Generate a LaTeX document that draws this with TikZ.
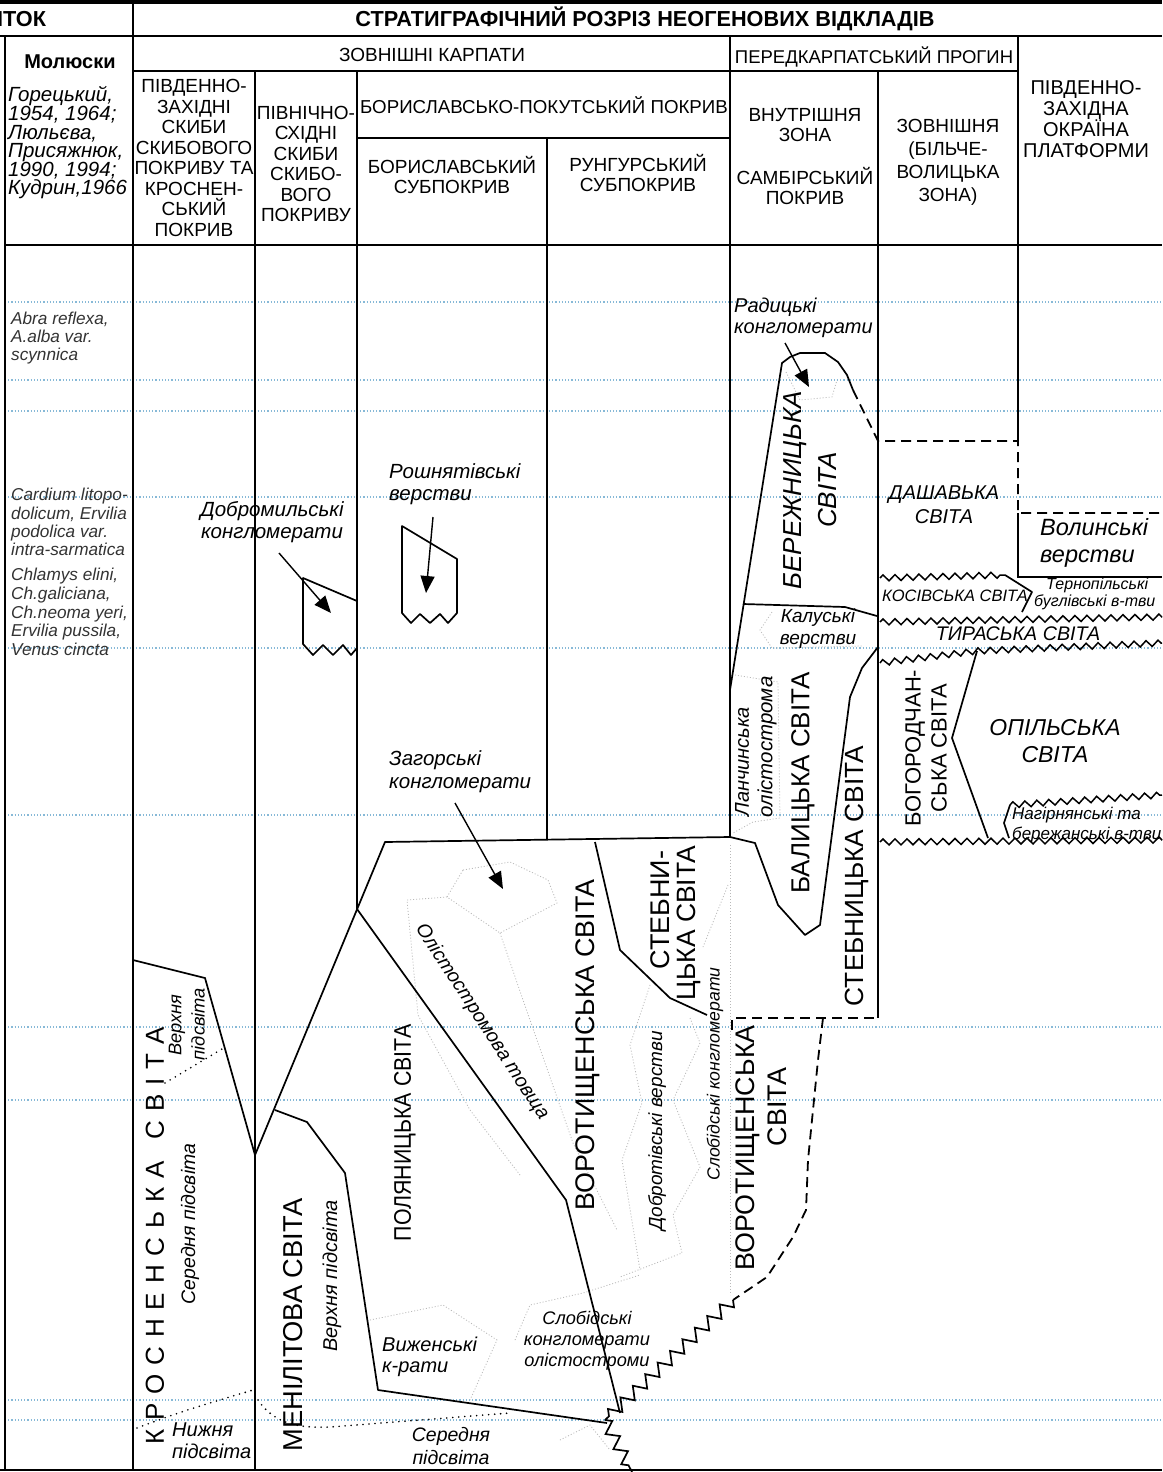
\documentclass[tikz,border=0pt]{standalone}
\usepackage{fontspec}
\setmainfont{Liberation Sans}
\usetikzlibrary{decorations.pathmorphing,arrows.meta}
\newcommand\fz[2]{\fontsize{#1}{#2}\selectfont}
\newcommand\lsp{\hspace{8.9pt}}
\definecolor{bluedot}{RGB}{135,185,215}
\definecolor{fainty}{RGB}{185,185,185}
\begin{document}
\begin{tikzpicture}[x=1pt,y=-1pt,
  cl/.style={line width=1.3pt},
  ln/.style={line width=1.7pt,line join=round},
  bd/.style={bluedot,line width=1.1pt,dash pattern=on 1.2pt off 2pt},
  fd/.style={fainty,line width=0.8pt,dash pattern=on 1pt off 2pt},
  ds/.style={line width=1.8pt,dash pattern=on 10pt off 6pt},
  zzs/.style={line width=1.5pt,decorate,decoration={zigzag,segment length=12pt,amplitude=3pt}},
  zzb/.style={line width=1.7pt,decorate,decoration={zigzag,segment length=17pt,amplitude=6pt}},
  ar/.style={line width=1.4pt,-{Triangle[length=17pt,width=14pt]}},
  bdot/.style={line width=1.8pt,dash pattern=on 0pt off 6pt,line cap=round},
  lbl/.style={inner sep=0pt,align=center},
  hd/.style={lbl,font=\fz{19}{20.5}},
  big/.style={lbl,rotate=90,font=\fz{26.5}{30}},
  smi/.style={lbl,font=\itshape\fz{19}{21}},
]
\useasboundingbox (0,0) rectangle (1162,1472);
\fill[white] (0,0) rectangle (1162,1472);

% ---------- blue dotted time lines
\foreach \yy in {302,380,411,497,648,815,1027,1100,1400,1420}
  \draw[bd] (5,\yy) -- (1162,\yy);

% ---------- faint olistostrome outlines
\draw[fd] (786,372) -- (800,400) -- (832,397) -- (837,380);
\draw[fd] (772,612) -- (760,630) -- (772,648) -- (862,646);
\draw[fd] (735,675) -- (778,682) -- (780,818) -- (753,822) -- (733,833);
\draw[fd] (463,870) -- (510,862) -- (548,880) -- (557,903) -- (500,933) -- (447,897) -- cycle;
\draw[fd] (447,897) -- (407,900) -- (418,1015) -- (470,1110) -- (520,1175);
\draw[fd] (500,933) -- (523,1000) -- (573,1143) -- (617,1230);
\draw[fd] (650,985) -- (630,1045) -- (642,1103) -- (622,1160) -- (640,1270);
\draw[fd] (690,1018) -- (700,1043) -- (673,1100) -- (700,1167) -- (673,1215) -- (682,1253) -- (620,1277);
\draw[fd] (730,845) -- (730,1295);
\draw[fd] (728,885) -- (703,947);
\draw[fd] (370,1320) -- (443,1305) -- (497,1340) -- (470,1400);
\draw[fd] (515,1340) -- (530,1305) -- (583,1293) -- (640,1275);
\draw[fd] (560,1440) -- (590,1425) -- (610,1450);

% ---------- frame
\fill (0,0) rectangle (1162,4.5);
\draw[cl] (0,36) -- (1162,36);
\draw[cl] (133,4) -- (133,1470);
\draw[cl] (5,36) -- (5,1470);
\draw[cl] (133,71) -- (1018,71);
\draw[cl] (255,71) -- (255,1470);
\draw[cl] (357,71) -- (357,909);
\draw[cl] (357,138) -- (730,138);
\draw[cl] (547,138) -- (547,840);
\draw[cl] (730,36) -- (730,837);
\draw[cl] (878,71) -- (878,1018);
\draw[cl] (1018,36) -- (1018,441);
\draw[cl] (5,245) -- (1162,245);
\draw[line width=2pt] (0,1470) -- (1162,1470);

% ---------- header texts
\node[lbl,anchor=west,font=\bfseries\fz{21.7}{23}] (hitok) at (-3,19) {ІТОК};
\node[lbl,font=\bfseries\fz{21.7}{23}] (htitle) at (645,19) {СТРАТИГРАФІЧНИЙ РОЗРІЗ НЕОГЕНОВИХ ВІДКЛАДІВ};
\node[lbl,font=\bfseries\fz{20}{22}] (hmol) at (70,62) {Молюски};
\node[lbl,anchor=west,align=left,font=\itshape\fz{20.5}{18.6}] (href) at (8,143) {Горецький,\\1954, 1964;\\Люльєва,\\Присяжнюк,\\1990, 1994;\\Кудрин,1966};
\node[hd] (hzk) at (432,55) {ЗОВНІШНІ КАРПАТИ};
\node[hd,font=\fz{18.5}{20}] (hpp) at (874,57) {ПЕРЕДКАРПАТСЬКИЙ ПРОГИН};
\node[hd] (hpz) at (194,158) {ПІВДЕННО-\\ЗАХІДНІ\\СКИБИ\\СКИБОВОГО\\ПОКРИВУ ТА\\КРОСНЕН-\\СЬКИЙ\\ПОКРИВ};
\node[hd] (hps) at (306,164) {ПІВНІЧНО-\\СХІДНІ\\СКИБИ\\СКИБО-\\ВОГО\\ПОКРИВУ};
\node[hd,font=\fz{18.7}{20}] (hbp) at (544,105) {БОРИСЛАВСЬКО-ПОКУТСЬКИЙ ПОКРИВ};
\node[hd] (hbs) at (452,175) {БОРИСЛАВСЬКИЙ\\СУБПОКРИВ};
\node[hd] (hrs) at (638,173) {РУНГУРСЬКИЙ\\СУБПОКРИВ};
\node[hd] (hvz) at (805,125) {ВНУТРІШНЯ\\ЗОНА};
\node[hd] (hsp) at (805,186) {САМБІРСЬКИЙ\\ПОКРИВ};
\node[hd,font=\fz{19}{23}] (hzz) at (948,162) {ЗОВНІШНЯ\\(БІЛЬЧЕ-\\ВОЛИЦЬКА\\ЗОНА)};
\node[lbl,font=\fz{20}{20.5}] (hpl) at (1086,119) {ПІВДЕННО-\\ЗАХІДНА\\ОКРАЇНА\\ПЛАТФОРМИ};

% ---------- mollusc lists
\node[lbl,anchor=west,align=left,font=\itshape\fz{17.2}{18.3},text=black!80] (sp1) at (11,338) {Abra reflexa,\\A.alba var.\\scynnica};
\node[lbl,anchor=west,align=left,font=\itshape\fz{17.2}{18.3},text=black!80] (sp2) at (11,522) {Cardium litopo-\\dolicum, Ervilia\\podolica var.\\intra-sarmatica};
\node[lbl,anchor=west,align=left,font=\itshape\fz{17.2}{18.7},text=black!80] (sp3) at (11,612) {Chlamys elini,\\Ch.galiciana,\\Ch.neoma yeri,\\Ervilia pussila,\\Venus cincta};

% ---------- small conglomerate bodies
\draw[ln] (357,648) -- (357,601) -- (303,578) -- (303,644) -- (313,655) -- (323,645) -- (333,655) -- (343,645) -- (351,655) -- (357,648);
\draw[ln] (402,526) -- (457,559) -- (457,613) -- (448,623) -- (440,614) -- (430,623) -- (420,614) -- (411,623) -- (402,613) -- cycle;

\node[lbl,font=\itshape\fz{20.5}{22}] (tdob) at (272,522) {Добромильські\\конгломерати};
\coordinate (adob1) at (279,553); \coordinate (adob2) at (331,613);
\draw[ar] (adob1) -- (adob2);
\node[lbl,anchor=west,align=left,font=\itshape\fz{20.5}{22}] (trosh) at (389,484) {Рошнятівські\\верстви};
\coordinate (arosh1) at (433,517); \coordinate (arosh2) at (426,593);
\draw[ar] (arosh1) -- (arosh2);

% ---------- Samby / inner zone bodies
\draw[ln] (730,690) -- (782,363) -- (790,357) -- (800,353) -- (825,353) -- (838,362) -- (847,375) -- (853,390);
\draw[ds] (853,390) -- (878,441) -- (1018,441) -- (1018,513) -- (1162,513);
\draw[ln] (743,604) -- (845,607) -- (877,616);
\draw[ln] (878,647) -- (862,668) -- (850,697) -- (820,925) -- (805,935) -- (778,905) -- (755,843) -- (730,837);

\node[lbl,anchor=west,align=left,font=\itshape\fz{20}{21.5}] (trad) at (734,318) {Радицькі\\конгломерати};
\coordinate (arad1) at (785,343); \coordinate (arad2) at (809,387);
\draw[ar] (arad1) -- (arad2);
\node[big,font=\itshape\fz{26}{30}] (tber1) at (795,490) {БЕРЕЖНИЦЬКА};
\node[big,font=\itshape\fz{26}{30}] (tber2) at (828,490) {СВІТА};
\node[lbl,font=\itshape\fz{19}{22}] (tkal) at (818,629) {Калуські\\верстви};
\node[lbl,rotate=90,font=\itshape\fz{20}{22}] (tlan1) at (742,762) {Ланчинська};
\node[lbl,rotate=90,font=\itshape\fz{20.5}{22}] (tlan2) at (767,747) {олістострома};
\node[big,font=\fz{26}{30}] (tbal) at (803,783) {БАЛИЦЬКА СВІТА};
\node[big,font=\fz{26.3}{30}] (tstb) at (857,876) {СТЕБНИЦЬКА СВІТА};

% ---------- outer zone & platform
\draw[zzs] (880,578) -- (1005,575);
\draw[ln] (1005,575) -- (1032,592) -- (1022,612);
\draw[zzs] (880,622) -- (1162,617);
\draw[zzs] (880,663) -- (977,651) -- (1162,643);
\draw[ln] (977,651) -- (952,738) -- (988,838);
\draw[zzs] (880,842) -- (1162,840);
\draw[zzs] (1010,805) -- (1162,795);
\draw[ln] (1010,805) -- (1004,823) -- (1009,838);
\draw[cl] (1018,513) -- (1018,577) -- (1162,577);

\node[lbl,font=\itshape\fz{20}{24}] (tdash) at (944,505) {ДАШАВЬКА\\СВІТА};
\node[lbl,anchor=west,align=left,font=\itshape\fz{23.5}{27}] (tvol) at (1040,543) {Волинські\\верстви};
\node[lbl,font=\itshape\fz{16.5}{18}] (tkos) at (955,596) {КОСІВСЬКА СВІТА};
\node[lbl,anchor=west,align=left,font=\itshape\fz{16}{16.5}] (tter) at (1034,594) {\hspace*{12pt}Тернопільські\\буглівські в-тви};
\node[lbl,font=\itshape\fz{19.7}{20}] (ttyr) at (1018,634) {ТИРАСЬКА СВІТА};
\node[lbl,rotate=90,font=\fz{22}{26}] (tbog) at (926,748) {БОГОРОДЧАН-\\СЬКА СВІТА};
\node[lbl,font=\itshape\fz{23}{27}] (topil) at (1055,741) {ОПІЛЬСЬКА\\СВІТА};
\node[lbl,anchor=west,align=left,font=\itshape\fz{17}{20}] (tnag) at (1012,825) {Нагірнянські та\\бережанські в-тви};

% ---------- Boryslav-Pokuttia lower bodies
\draw[ln] (730,837) -- (385,842) -- (255,1155);
\draw[ln] (133,960) -- (205,978) -- (255,1155);
\draw[ln] (357,909) -- (566,1200) -- (620,1413);
\draw[ln] (275,1110) -- (307,1122) -- (345,1173) -- (378,1390) -- (607,1423);
\draw[ln] (595,842) -- (620,950) -- (670,998) -- (707,1015);
\draw[ds] (732,1030) -- (732,1018) -- (878,1018);
\draw[ds] (823,1018) -- (818,1060) -- (813,1110) -- (808,1160) -- (806,1210) -- (793,1237) -- (767,1277) -- (733,1300);
\draw[zzb] (733,1300) -- (605,1420);
\draw[zzb] (605,1420) -- (632,1472);

\draw[bdot] (165,1083) -- (222,1049);
\draw[bdot] (137,1428) .. controls (180,1412) .. (253,1390);
\draw[bdot] (258,1400) .. controls (275,1425) and (300,1428) .. (330,1427) -- (510,1413);

\node[lbl,anchor=west,align=left,font=\itshape\fz{20.5}{23}] (tzag) at (389,772) {Загорські\\конгломерати};
\coordinate (azag1) at (455,803); \coordinate (azag2) at (503,889);
\draw[ar] (azag1) -- (azag2);

\node[big,font=\fz{27}{30}] (tstk1) at (660,910) {СТЕБНИ-};
\node[big] (tstk2) at (689,923) {ЦЬКА СВІТА};
\node[big,font=\fz{26.9}{30}] (tvor1) at (588,1045) {ВОРОТИЩЕНСЬКА СВІТА};
\node[big,font=\fz{26.9}{30}] (tvor2) at (748,1148) {ВОРОТИЩЕНСЬКА};
\node[big,font=\fz{26.9}{30}] (tvor3) at (777,1107) {СВІТА};
\node[big,font=\fz{24}{28}] (tpol) at (405,1133) {\scalebox{0.89}[1]{ПОЛЯНИЦЬКА СВІТА}};
\node[big,font=\fz{27.3}{30}] (tmen) at (293,1325) {МЕНІЛІТОВА СВІТА};
\node[big,font=\fz{26}{30}] (tkro) at (155,1236) {К\lsp Р\lsp О\lsp С\lsp Н\lsp Е\lsp Н\lsp С\lsp Ь\lsp К\lsp А\hspace{22pt}С\lsp В\lsp І\lsp Т\lsp А};

\node[smi,rotate=-57,font=\itshape\fz{19.5}{21}] (tolt) at (482,1022) {Олістостромова товща};
\node[smi,rotate=90] (tdobr) at (657,1131) {Добротівські верстви};
\node[smi,rotate=90,font=\itshape\fz{17.6}{20}] (tslb) at (715,1074) {Слобідські конгломерати};
\node[smi,rotate=90,font=\itshape\fz{20}{21}] (tmup) at (332,1276) {Верхня\hspace{6pt}підсвіта};
\node[smi,rotate=90,font=\itshape\fz{19.5}{21}] (tksr) at (190,1224) {Середня підсвіта};
\node[smi,rotate=90,font=\itshape\fz{18.3}{21}] (tkup1) at (177,1025) {Верхня};
\node[smi,rotate=90,font=\itshape\fz{18.3}{21}] (tkup2) at (198,1024) {підсвіта};
\node[lbl,anchor=west,align=left,font=\itshape\fz{20}{22}] (tkni) at (172,1441) {Нижня\\підсвіта};
\node[lbl,font=\itshape\fz{18.2}{21}] (tslo) at (587,1341) {Слобідські\\конгломерати\\олістостроми};
\node[lbl,anchor=west,align=left,font=\itshape\fz{20}{21}] (tviz) at (382,1357) {Виженські\\к-рати};
\node[lbl,font=\itshape\fz{19.5}{23}] (tmsr) at (451,1446) {Середня\\підсвіта};
\end{tikzpicture}
\end{document}
